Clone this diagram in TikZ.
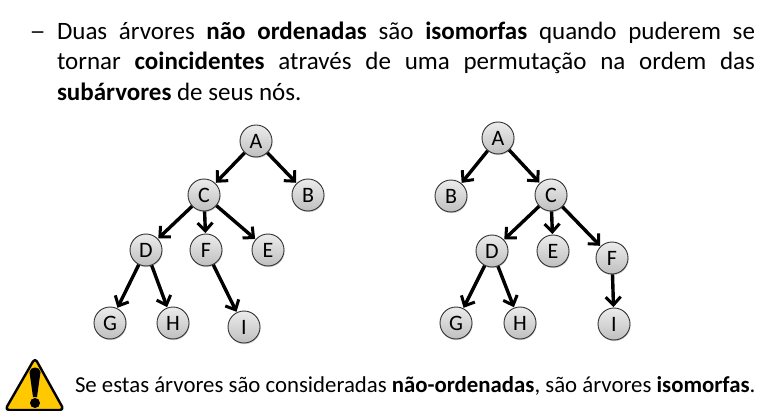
\documentclass[tikz,border=0pt]{standalone}
\usepackage{fontspec}
\setmainfont{Carlito}
\usetikzlibrary{arrows.meta,shadows}
\definecolor{nodeedge}{RGB}{50,50,50}
\definecolor{warnyellow}{RGB}{255,200,0}
\tikzset{
  tn/.style={circle,draw=nodeedge,line width=0.9pt,minimum size=32pt,inner sep=0pt,
    top color=gray!15,bottom color=gray!50,font=\fontsize{22}{22}\selectfont,
    drop shadow={shadow xshift=0.6pt,shadow yshift=-1.2pt,opacity=0.35}},
  ar/.style={line width=3.4pt,black,-{Straight Barb[length=8pt,width=15pt,line width=3pt]},shorten >=0.5pt},
  tx/.style={anchor=base west,inner sep=0pt,outer sep=0pt,font=\fontsize{25}{25}\selectfont},
  tb/.style={anchor=base west,inner sep=0pt,outer sep=0pt,font=\fontsize{22.8}{22.8}\selectfont}
}
\begin{document}
\begin{tikzpicture}[x=1pt,y=-1pt]
\useasboundingbox (0,0) rectangle (767,411);
\fill[white] (0,0) rectangle (767,411);
% text
\node[tx] (dash) at (29.5,39.5) {\scalebox{1.3}[1]{–}};
\node[tx] (l1) at (57,39.5) {\makebox[698pt][s]{Duas\hfil árvores\hfil \textbf{não\hfil ordenadas}\hfil são\hfil \textbf{isomorfas}\hfil quando\hfil puderem\hfil se}};
\node[tx] (l2) at (57,70) {\makebox[698pt][s]{tornar\hfil \textbf{coincidentes}\hfil através\hfil de\hfil uma\hfil permutação\hfil na\hfil ordem\hfil das}};
\node[tx] (l3) at (57,100.5) {\textbf{subárvores} de seus nós.};
\node[tb] (l4) at (75,392) {Se estas árvores são consideradas \textbf{não-ordenadas}, são árvores \textbf{isomorfas}.};
% left tree
\node[tn] (a1) at (256,141) {A};
\node[tn] (b1) at (308,195) {B};
\node[tn] (c1) at (204,195) {C};
\node[tn] (d1) at (146,250) {D};
\node[tn] (f1) at (206,250) {F};
\node[tn] (e1) at (268,250) {E};
\node[tn] (g1) at (110,323) {G};
\node[tn] (h1) at (173,323) {H};
\node[tn] (i1) at (244,327) {I};
\draw[ar] (a1) -- (c1);
\draw[ar] (a1) -- (b1);
\draw[ar] (c1) -- (d1);
\draw[ar] (c1) -- (f1);
\draw[ar] (c1) -- (e1);
\draw[ar] (d1) -- (g1);
\draw[ar] (d1) -- (h1);
\draw[ar] (f1) -- (i1);
% right tree
\node[tn] (a2) at (498,138) {A};
\node[tn] (b2) at (451,196) {B};
\node[tn] (c2) at (551,195) {C};
\node[tn] (d2) at (492,251) {D};
\node[tn] (e2) at (553,251) {E};
\node[tn] (f2) at (612,258) {F};
\node[tn] (g2) at (456,323) {G};
\node[tn] (h2) at (520,323) {H};
\node[tn] (i2) at (614,324) {I};
\draw[ar] (a2) -- (b2);
\draw[ar] (a2) -- (c2);
\draw[ar] (c2) -- (d2);
\draw[ar] (c2) -- (e2);
\draw[ar] (c2) -- (f2);
\draw[ar] (d2) -- (g2);
\draw[ar] (d2) -- (h2);
\draw[ar] (f2) -- (i2);
% warning sign
\draw[black,line width=2.4pt,line join=round,fill=warnyellow,rounded corners=4pt]
  (35,358) -- (64,410) -- (5,410) -- cycle;
\fill[black] (29.5,372) .. controls (30,366) and (40,366) .. (40.5,372) -- (37,397) -- (33,397) -- cycle;
\fill[black] (35,403) circle (5);
\end{tikzpicture}
\end{document}
